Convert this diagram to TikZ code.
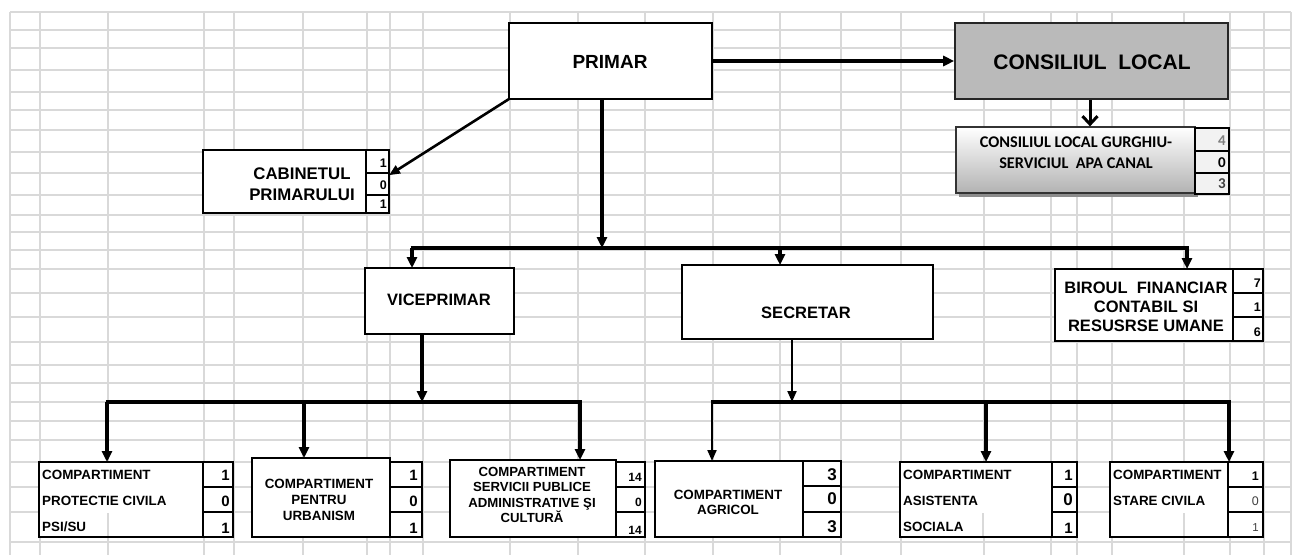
\documentclass[tikz,border=0pt]{standalone}
\usepackage{fontspec}
\setmainfont{Liberation Sans}
\newfontfamily\calibfont{Carlito}
\usetikzlibrary{arrows.meta,fit,calc}
\definecolor{gridgray}{RGB}{217,217,217}
\definecolor{stipplegray}{RGB}{186,186,186}
\newcommand\mknumcol[7]{%
  \node[numcell,fit={(#2,#4)(#3,#7)}] (#1) {};
  \draw[sepline] (#2,#5) -- (#3,#5) (#2,#6) -- (#3,#6);
}
\begin{document}
\begin{tikzpicture}[x=1pt,y=-1pt,
  gridline/.style={draw=gridgray,line width=1.3pt},
  bx/.style={draw=black,line width=2.9pt,fill=white,inner sep=0pt,outer sep=0pt},
  numcell/.style={draw=black,line width=2.6pt,fill=white,inner sep=0pt,outer sep=0pt},
  sepline/.style={draw=black,line width=2.6pt},
  busline/.style={line width=3.6pt},
  conn/.style={line width=3.4pt,-{Triangle[length=11pt,width=10pt]}},
  slimconn/.style={line width=2pt,-{Triangle[length=11pt,width=9pt]}},
  diagconn/.style={line width=2.6pt,-{Triangle[length=11pt,width=9pt]}},
  f21/.style={inner sep=0pt,align=center,font=\fontsize{21}{24}\selectfont\bfseries},
  f18/.style={inner sep=0pt,align=center,font=\fontsize{19}{21}\selectfont\bfseries},
  f16/.style={inner sep=0pt,align=center,font=\fontsize{16.5}{19}\selectfont\bfseries},
  fcab/.style={inner sep=0pt,align=center,font=\fontsize{16.8}{21}\selectfont\bfseries},
  fcal/.style={inner sep=0pt,align=center,font=\calibfont\fontsize{16.3}{21}\selectfont\bfseries},
  f13/.style={inner sep=0pt,align=center,font=\fontsize{13.4}{16}\selectfont\bfseries},
  f13l/.style={inner sep=0pt,anchor=west,text height=9.7pt,text depth=0pt,font=\fontsize{13.4}{16}\selectfont\bfseries},
  n11/.style={inner sep=0pt,anchor=east,font=\fontsize{12}{12}\selectfont\bfseries},
  n12/.style={inner sep=0pt,anchor=east,font=\fontsize{12.5}{12}\selectfont\bfseries},
  n14/.style={inner sep=0pt,anchor=east,font=\fontsize{15}{14}\selectfont\bfseries},
  n16/.style={inner sep=0pt,anchor=east,font=\fontsize{17}{16}\selectfont\bfseries},
  nreg/.style={inner sep=0pt,anchor=east,text=black!75,font=\fontsize{12.5}{12}\selectfont},
  ncal/.style={inner sep=0pt,anchor=east,font=\calibfont\fontsize{15}{14}\selectfont\bfseries}
]
\useasboundingbox (0,0) rectangle (1298,555);
\fill[white] (0,0) rectangle (1298,555);
% spreadsheet grid
\foreach \x in {10,40,108,204,234,303,367,390,423,510,578,645,713,780,841,901,984,1051,1077,1112,1184,1230,1264,1291}
  \draw[gridline] (\x,12) -- (\x,555);
\foreach \y in {12,30,48,70,92,110,130,152,173,195,215,232,250,269,293,317,342,365,383,402,421,440,462,487,512,542}
  \draw[gridline] (10,\y) -- (1291,\y);

% PRIMAR
\node[bx,fit={(509,23)(712,99)}] (primar) {};
\node[f18] (primarT) at (610,62) {PRIMAR};

% CONSILIUL LOCAL
\node[draw=black!85,line width=1.6pt,fill=stipplegray,inner sep=0pt,fit={(955,23)(1228,99)}] (consiliul) {};
\node[f21] (consiliulT) at (1092,62) {CONSILIUL~~LOCAL};

% Consiliul local Gurghiu
\fill[black!45] (959,130) rectangle (1198,197);
\node[draw=black!80,line width=1.3pt,top color=white,bottom color=black!30,inner sep=0pt,fit={(956,127)(1195,193)}] (gurghiu) {};
\node[fcal] (gurghiuT) at (1076,152.5) {CONSILIUL LOCAL GURGHIU-\\SERVICIUL~~APA CANAL};
\node[draw=black,line width=2.2pt,fill=black!5,inner sep=0pt,fit={(1195,128)(1229,194)}] (gnum) {};
\draw[line width=2.2pt] (1195,151) -- (1229,151) (1195,173) -- (1229,173);
\node[ncal,text=black!50] (g1) at (1226,141) {4};
\node[ncal] (g2) at (1226,163) {0};
\node[ncal,text=black!75] (g3) at (1226,184) {3};

% CABINETUL PRIMARULUI
\node[bx,fit={(203,150)(366,213)}] (cabinet) {};
\node[fcab] (cabinetT) at (302,184) {CABINETUL\\PRIMARULUI};
\mknumcol{cabnum}{366}{389}{150}{173}{195}{213}
\node[n12] (c1) at (387,163) {1};
\node[n12] (c2) at (387,185) {0};
\node[n12] (c3) at (387,204) {1};

% VICEPRIMAR, SECRETAR, BIROUL
\node[bx,fit={(365,268)(514,334)}] (vice) {};
\node[f16] (viceT) at (439,300) {VICEPRIMAR};
\node[bx,fit={(682,265)(933,339)}] (secretar) {};
\node[f16] (secretarT) at (806,313) {SECRETAR};
\node[bx,fit={(1055,269)(1233,341)}] (biroul) {};
\node[f16] (biroulT) at (1146,307) {BIROUL~~FINANCIAR\\CONTABIL SI\\RESUSRSE UMANE};
\mknumcol{bnum}{1233}{1263}{269}{293}{317}{341}
\node[n12] (b1) at (1261,283) {7};
\node[n12] (b2) at (1261,307) {1};
\node[n12] (b3) at (1261,332) {6};

% bottom row
\node[bx,fit={(39,462)(203,537)}] (boxA) {};
\draw[gridline] (108,513) -- (108,536);
\node[f13l] (a1) at (42,475) {COMPARTIMENT};
\node[f13l] (a2) at (42,501) {PROTECTIE CIVILA};
\node[f13l] (a3) at (42,527) {PSI/SU};
\mknumcol{anum}{203}{233}{462}{487}{512}{537}
\node[n14] (an1) at (230,475) {1};
\node[n14] (an2) at (230,501) {0};
\node[n14] (an3) at (230,528) {1};

\node[bx,fit={(252,458)(390,537)}] (boxB) {};
\node[f13] (bT) at (319,500) {COMPARTIMENT\\PENTRU\\URBANISM};
\mknumcol{bbnum}{390}{422}{462}{487}{512}{537}
\node[n14] (bn1) at (418,475) {1};
\node[n14] (bn2) at (418,501) {0};
\node[n14] (bn3) at (418,528) {1};

\node[bx,fit={(450,460)(616,537)}] (boxC) {};
\node[inner sep=0pt,align=center,font=\fontsize{13.2}{15.5}\selectfont\bfseries] (cT) at (532,495) {COMPARTIMENT\\SERVICII PUBLICE\\ADMINISTRATIVE ŞI\\CULTURĂ};
\mknumcol{cnum}{616}{645}{462}{487}{512}{537}
\node[n11] (cn1) at (642,477) {14};
\node[n11] (cn2) at (642,502) {0};
\node[n11] (cn3) at (642,530) {14};

\node[bx,fit={(655,461)(803,537)}] (boxD) {};
\node[inner sep=0pt,align=center,font=\fontsize{13.4}{15}\selectfont\bfseries] (dT) at (728,502.5) {COMPARTIMENT\\AGRICOL};
\mknumcol{dnum}{803}{841}{461}{486}{512}{537}
\node[n16] (dn1) at (837,475) {3};
\node[n16] (dn2) at (837,499) {0};
\node[n16] (dn3) at (837,527) {3};

\node[bx,fit={(900,462)(1052,537)}] (boxE) {};
\draw[gridline] (983,513) -- (983,536);
\node[f13l] (e1) at (903,475) {COMPARTIMENT};
\node[f13l] (e2) at (903,501) {ASISTENTA};
\node[f13l] (e3) at (903,527) {SOCIALA};
\mknumcol{enum}{1052}{1077}{462}{487}{512}{537}
\node[n14] (en1) at (1073,475) {1};
\node[n16] (en2) at (1073,500) {0};
\node[n14] (en3) at (1073,528) {1};

\node[bx,fit={(1110,462)(1228,537)}] (boxF) {};
\draw[gridline] (1184,513) -- (1184,536);
\node[f13l] (f1) at (1113,475) {COMPARTIMENT};
\node[f13l] (f2) at (1113,501) {STARE CIVILA};
\mknumcol{fnum}{1228}{1263}{462}{487}{512}{537}
\node[n12] (fn1) at (1259,476) {1};
\node[nreg] (fn2) at (1259,501) {0};
\node[nreg,font=\fontsize{11.5}{11}\selectfont] (fn3) at (1259,528) {1};

% connectors
\draw[conn] (primar.east) -- (consiliul.west);
\draw[line width=3pt,-{Straight Barb[length=8pt,width=15pt,line width=3pt]}] (consiliul.south -| 1090,0) -- (gurghiu.north -| 1090,0);
\draw[diagconn] (primar.south west) -- ($(cabnum.north east)!0.4!(cabnum.south east)$);

\coordinate (tDrop) at (602,248);
\coordinate (tL) at (412,248);
\coordinate (tM) at (780,248);
\coordinate (tR) at (1187,248);
\draw[busline] ($(tL)+(-1.5,0)$) -- ($(tR)+(2,0)$);
\draw[conn] (primar.south -| tDrop) -- (tDrop);
\draw[conn] (tL) -- (tL |- vice.north);
\draw[conn] (tM) -- (tM |- secretar.north);
\draw[conn] (tR) -- (tR |- biroul.north);

\coordinate (vDrop) at (422,402);
\coordinate (vL) at (107,402);
\coordinate (vM) at (304,402);
\coordinate (vR) at (580,402);
\draw[busline] ($(vL)+(-1.5,0)$) -- ($(vR)+(1.5,0)$);
\draw[conn] (vice.south -| vDrop) -- (vDrop);
\draw[conn] (vL) -- (vL |- boxA.north);
\draw[conn] (vM) -- (vM |- boxB.north);
\draw[conn] (vR) -- (vR |- boxC.north);

\coordinate (sDrop) at (792,402);
\coordinate (sL) at (712,402);
\coordinate (sM) at (986,402);
\coordinate (sR) at (1229,402);
\draw[busline] ($(sL)+(-1.5,0)$) -- ($(sR)+(2,0)$);
\draw[slimconn] (secretar.south -| sDrop) -- (sDrop);
\draw[slimconn] (sL) -- (sL |- boxD.north);
\draw[conn] (sM) -- (sM |- boxE.north);
\draw[conn] (sR) -- (sR |- boxF.north);
\end{tikzpicture}
\end{document}
